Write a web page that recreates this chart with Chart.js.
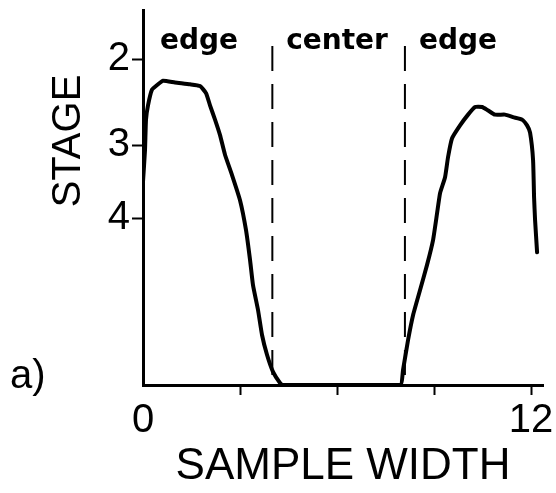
<!DOCTYPE html>
<html>
<head>
<meta charset="utf-8">
<script src="https://cdn.jsdelivr.net/npm/chart.js@4/dist/chart.umd.min.js"></script>
<style>
  html, body { margin: 0; padding: 0; background: #fff; }
  canvas { display: block; }
</style>
</head>
<body>
<canvas id="c" width="556" height="493"></canvas>
<script>
// ---- data ----
const profileWidth = [0, 0.062, 0.093, 0.155, 0.278, 0.464, 0.619, 0.990, 1.454, 1.763, 1.949, 2.072, 2.227, 2.382, 2.536, 2.753, 3.000, 3.186, 3.310, 3.402, 3.557, 3.681, 3.835, 4.021, 4.238, 4.330,
  7.949, 8.042, 8.197, 8.351, 8.568, 8.784, 8.970, 9.094, 9.187, 9.341, 9.434, 9.558, 9.805, 10.053, 10.269, 10.486, 10.671, 10.888, 11.197, 11.444, 11.723, 11.877, 11.970, 12.063, 12.094, 12.125, 12.187];
const profileStage = [3.48, 3.06, 2.68, 2.51, 2.33, 2.27, 2.23, 2.25, 2.27, 2.29, 2.37, 2.51, 2.68, 2.87, 3.12, 3.39, 3.74, 4.18, 4.64, 5.05, 5.47, 5.91, 6.27, 6.59, 6.80, 6.84,
  6.84, 6.55, 6.00, 5.56, 5.13, 4.72, 4.33, 3.93, 3.64, 3.42, 3.15, 2.91, 2.75, 2.62, 2.53, 2.53, 2.57, 2.62, 2.62, 2.65, 2.68, 2.75, 2.84, 3.19, 3.70, 4.03, 4.52];
const boundaryWidths = [4.0, 8.1];
const boundaryStages = [1.865, 6.84];
const regionLabels = ['edge', 'center', 'edge'];
const regionCenters = [1.73, 6.0, 9.74];
const xTickValues = [0, 3, 6, 9, 12];
const xTickLabels = ['0', '', '', '', '12'];
const yTickValues = [2, 3, 4];
const yTickLabels = ['2', '3', '4'];
const xTitle = 'SAMPLE WIDTH';
const yTitle = 'STAGE';
const panelLabel = 'a)';
const xRange = [0, 12.37];
const stageRange = [1.52, 6.84];

// ---- square-root stage scale ----
class SqrtScale extends Chart.LinearScale {
  getPixelForValue(value) {
    if (value === null || value === undefined) return NaN;
    const s = Math.sqrt(this.min), e = Math.sqrt(this.max);
    return this.getPixelForDecimal((Math.sqrt(value) - s) / (e - s));
  }
  getValueForPixel(pixel) {
    const s = Math.sqrt(this.min), e = Math.sqrt(this.max);
    const r = s + this.getDecimalForPixel(pixel) * (e - s);
    return r * r;
  }
}
SqrtScale.id = 'sqrt';
SqrtScale.defaults = Chart.LinearScale.defaults;
Chart.register(SqrtScale);

const annotations = {
  id: 'annotations',
  afterDraw(chart) {
    const { ctx, scales: { x, y } } = chart;
    ctx.save();
    ctx.fillStyle = '#000';
    ctx.font = 'bold 28px "DejaVu Sans"';
    ctx.textAlign = 'center';
    ctx.textBaseline = 'alphabetic';
    regionLabels.forEach((t, i) => ctx.fillText(t, x.getPixelForValue(regionCenters[i]), y.top + 39));
    ctx.font = '40px "Liberation Sans"';
    ctx.textAlign = 'left';
    ctx.fillText(panelLabel, 10, 388);
    ctx.translate(80, 141);
    ctx.rotate(-Math.PI / 2);
    ctx.textAlign = 'center';
    ctx.fillText(yTitle, 0, 0);
    ctx.restore();
  }
};

const profileData = profileWidth.map((w, i) => ({ x: w, y: profileStage[i] }));
const boundarySets = boundaryWidths.map(w => ({
  data: boundaryStages.map(s => ({ x: w, y: s })),
  borderColor: '#000',
  borderWidth: 2,
  borderDash: [25, 13],
  pointRadius: 0,
  tension: 0,
  fill: false
}));

new Chart(document.getElementById('c'), {
  type: 'line',
  data: {
    datasets: [
      {
        data: profileData,
        borderColor: '#000',
        borderWidth: 4,
        pointRadius: 0,
        tension: 0.15,
        fill: false,
        borderCapStyle: 'round',
        borderJoinStyle: 'round'
      },
      ...boundarySets
    ]
  },
  options: {
    responsive: false,
    animation: false,
    devicePixelRatio: 1,
    layout: { padding: { top: 10, right: 13, left: 0, bottom: 0 } },
    plugins: { legend: { display: false }, tooltip: { enabled: false } },
    scales: {
      x: {
        type: 'linear',
        min: xRange[0],
        max: xRange[1],
        afterBuildTicks: s => { s.ticks = xTickValues.map(v => ({ value: v })); },
        afterFit: s => { s.height = 108; },
        border: { display: true, color: '#000', width: 3 },
        grid: {
          drawOnChartArea: false,
          drawTicks: true,
          tickLength: 10,
          tickWidth: 2,
          color: ctx => (ctx.tick && ctx.tick.value === 0 ? 'rgba(0,0,0,0)' : '#000')
        },
        ticks: {
          color: '#000',
          padding: 2,
          maxRotation: 0,
          autoSkip: false,
          font: { family: '"Liberation Sans"', size: 40 },
          callback: (v, i) => xTickLabels[i]
        },
        title: {
          display: true,
          text: xTitle,
          color: '#000',
          font: { family: '"Liberation Sans"', size: 44 },
          padding: { top: 0, bottom: 0 }
        }
      },
      y: {
        type: 'sqrt',
        reverse: true,
        min: stageRange[0],
        max: stageRange[1],
        afterBuildTicks: s => { s.ticks = yTickValues.map(v => ({ value: v })); },
        afterFit: s => { s.width = 143; s.paddingTop = 0; s.paddingBottom = 0; },
        border: { display: true, color: '#000', width: 3 },
        grid: {
          drawOnChartArea: false,
          drawTicks: true,
          tickLength: 11,
          tickWidth: 2,
          color: '#000'
        },
        ticks: {
          color: '#000',
          padding: 2,
          autoSkip: false,
          font: { family: '"Liberation Sans"', size: 40 },
          callback: (v, i) => yTickLabels[i]
        }
      }
    }
  },
  plugins: [annotations]
});
</script>
</body>
</html>
